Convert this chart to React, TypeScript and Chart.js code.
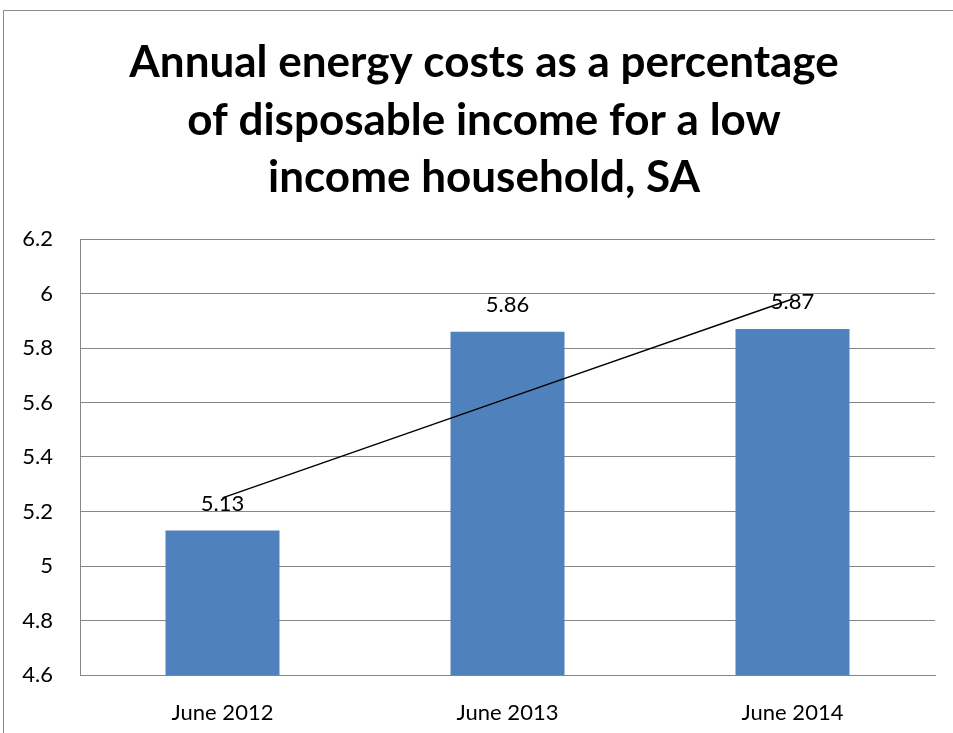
import React, { useEffect, useRef } from 'react';
import { Chart, registerables } from 'chart.js';

Chart.register(...registerables);

const categories = ['June 2012', 'June 2013', 'June 2014'];
const costShare = [5.13, 5.86, 5.87];
const trendValues = [5.25, 5.615, 5.98];
const yTickValues = [4.6, 4.8, 5, 5.2, 5.4, 5.6, 5.8, 6, 6.2];
const titleLines = [
  'Annual energy costs as a percentage',
  'of disposable income for a low',
  'income household, SA',
];

const FONT = 'Lato, "Open Sans", sans-serif';
const GRID = '#868686';

const framePlugin = {
  id: 'frame',
  beforeDraw(chart: any) {
    const ctx = chart.ctx;
    ctx.save();
    ctx.fillStyle = '#ffffff';
    ctx.fillRect(0, 0, chart.width, chart.height);
    ctx.strokeStyle = '#8a8a8a';
    ctx.lineWidth = 1;
    ctx.beginPath();
    ctx.moveTo(3.5, chart.height + 5);
    ctx.lineTo(3.5, 10.5);
    ctx.lineTo(chart.width + 5, 10.5);
    ctx.stroke();
    ctx.restore();
  },
};

const titlePlugin = {
  id: 'customTitle',
  afterDraw(chart: any) {
    const ctx = chart.ctx;
    ctx.save();
    ctx.fillStyle = '#000000';
    ctx.font = `bold 44px ${FONT}`;
    ctx.textAlign = 'center';
    ctx.textBaseline = 'alphabetic';
    titleLines.forEach((line, i) => {
      ctx.fillText(line, 484, 77 + i * 57.5);
    });
    ctx.restore();
  },
};

const barLabelPlugin = {
  id: 'barLabels',
  afterDatasetDraw(chart: any, args: any) {
    if (args.index !== 0) return;
    const ctx = chart.ctx;
    const meta = chart.getDatasetMeta(0);
    ctx.save();
    ctx.fillStyle = '#000000';
    ctx.font = `22px ${FONT}`;
    ctx.textAlign = 'center';
    ctx.textBaseline = 'alphabetic';
    meta.data.forEach((el: any, i: number) => {
      ctx.fillText(costShare[i].toFixed(2), el.x, el.y - 19.5);
    });
    ctx.restore();
  },
};

export default function App() {
  const canvasRef = useRef<HTMLCanvasElement | null>(null);

  useEffect(() => {
    if (!canvasRef.current) return;
    const chart = new Chart(canvasRef.current, {
      type: 'bar',
      data: {
        labels: categories,
        datasets: [
          {
            type: 'bar',
            label: 'Energy cost share',
            data: costShare,
            backgroundColor: '#4F81BD',
            borderWidth: 0,
            categoryPercentage: 1,
            barPercentage: 0.4,
            order: 2,
          },
          {
            type: 'line',
            label: 'Trend',
            data: trendValues,
            borderColor: '#000000',
            borderWidth: 1.5,
            pointRadius: 0,
            fill: false,
            tension: 0,
            order: 1,
          } as any,
        ],
      },
      options: {
        responsive: false,
        animation: false,
        devicePixelRatio: 1,
        layout: { padding: { top: 239, right: 18, bottom: 0, left: 0 } },
        plugins: {
          legend: { display: false },
          tooltip: { enabled: false },
          title: { display: false },
        },
        scales: {
          x: {
            grid: { display: false },
            border: { display: true, color: GRID, width: 1 },
            ticks: {
              color: '#000000',
              font: { family: FONT, size: 22 },
              padding: 17,
            },
            afterFit(scale: any) {
              scale.height = 58;
            },
          },
          y: {
            min: 4.6,
            max: 6.2,
            afterBuildTicks(scale: any) {
              scale.ticks = yTickValues.map((v) => ({ value: v }));
            },
            grid: { color: GRID, lineWidth: 1, drawTicks: false },
            border: { display: true, color: GRID, width: 1 },
            ticks: {
              color: '#000000',
              font: { family: FONT, size: 22 },
              padding: 27,
              callback: (v: any) => String(Number(Number(v).toFixed(1))),
            },
            afterFit(scale: any) {
              scale.width = 80;
            },
          },
        },
      },
      plugins: [framePlugin, titlePlugin, barLabelPlugin],
    });
    return () => chart.destroy();
  }, []);

  return (
    <div style={{ position: 'fixed', left: 0, top: 0, width: 953, height: 733, overflow: 'hidden', background: '#fff' }}>
      <canvas ref={canvasRef} width={953} height={733} style={{ display: 'block' }} />
    </div>
  );
}
